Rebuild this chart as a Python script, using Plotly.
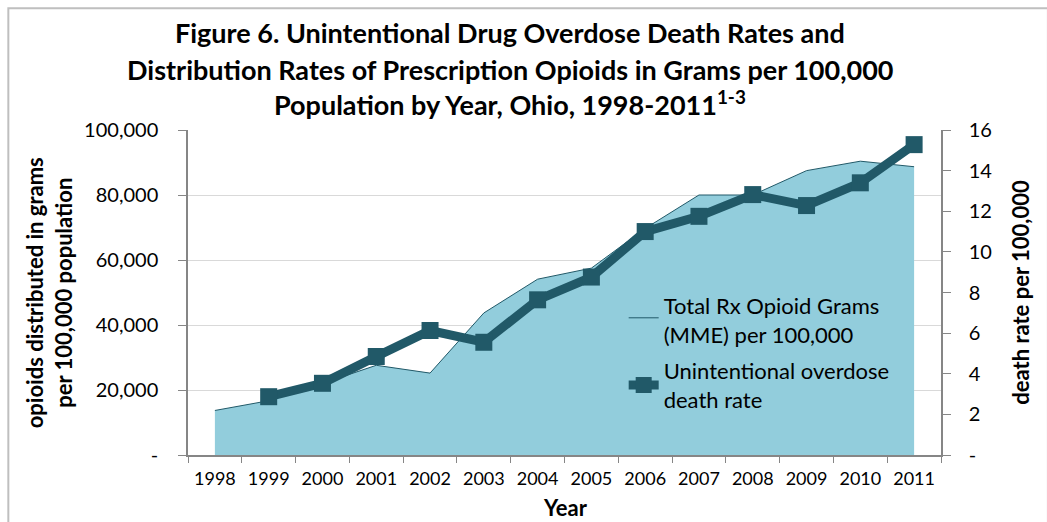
import plotly.graph_objects as go

# Ohio, 1998-2011
years = [str(y) for y in range(1998, 2012)]
opioid_grams = [13700, 16700, 22000, 27600, 25200, 43700, 54100,
                57500, 69700, 80000, 80000, 87500, 90400, 88700]
death_rate = [None, 2.87, 3.53, 4.85, 6.13, 5.55, 7.64,
              8.76, 11.0, 11.75, 12.82, 12.28, 13.40, 15.28]

left_ticks = [0, 20000, 40000, 60000, 80000, 100000]
left_ticktext = ["-", "20,000", "40,000", "60,000", "80,000", "100,000"]
right_ticks = [0, 2, 4, 6, 8, 10, 12, 14, 16]
right_ticktext = ["-", "2", "4", "6", "8", "10", "12", "14", "16"]

FONT = "Lato"
AREA_FILL = "#92CDDC"
DARK = "#215968"
AXIS_GRAY = "#868686"

fig = go.Figure()

fig.add_trace(go.Scatter(
    x=years, y=opioid_grams, yaxis="y",
    mode="lines", fill="tozeroy",
    fillcolor=AREA_FILL,
    line=dict(color=DARK, width=1),
    name="Total Rx Opioid Grams<br>(MME) per 100,000",
    legendgroup="grams",
))

fig.add_trace(go.Scatter(
    x=years, y=death_rate, yaxis="y2",
    mode="lines+markers",
    line=dict(color=DARK, width=9),
    marker=dict(symbol="square", size=17, color=DARK),
    name="Unintentional overdose<br>death rate",
    legendgroup="deaths",
))

fig.update_layout(
    width=1047, height=522,
    margin=dict(l=188, r=106, t=130, b=67),
    paper_bgcolor="white", plot_bgcolor="white",
    font=dict(family=FONT, color="black"),
    showlegend=True,
    legend=dict(
        x=0.5786, y=0.524, xanchor="left", yanchor="top",
        bgcolor="rgba(0,0,0,0)",
        font=dict(family=FONT, size=22, color="black"),
        tracegroupgap=5,
    ),
    xaxis=dict(
        type="category", range=[-0.5, 13.5],
        tickson="boundaries", ticks="outside", ticklen=6,
        tickcolor=AXIS_GRAY, showline=True, linecolor=AXIS_GRAY, linewidth=1.5,
        showgrid=False, tickfont=dict(family=FONT, size=18),
        ticklabelstandoff=7,
    ),
    yaxis=dict(
        range=[0, 100000], tickvals=left_ticks, ticktext=left_ticktext,
        ticks="outside", ticklen=8, tickcolor=AXIS_GRAY,
        showline=True, linecolor=AXIS_GRAY, linewidth=1.5,
        showgrid=True, gridcolor="#D9D9D9", gridwidth=1.2,
        zeroline=False, tickfont=dict(family=FONT, size=20),
        ticklabelstandoff=16,
    ),
    yaxis2=dict(
        range=[0, 16], tickvals=right_ticks, ticktext=right_ticktext,
        overlaying="y", side="right",
        ticks="outside", ticklen=8, tickcolor=AXIS_GRAY,
        showline=True, linecolor=AXIS_GRAY, linewidth=1.5,
        showgrid=False, zeroline=False, tickfont=dict(family=FONT, size=20),
        ticklabelstandoff=14,
    ),
)

title_lines = [
    "Figure 6. Unintentional Drug Overdose Death Rates and",
    "Distribution Rates of Prescription Opioids in Grams per 100,000",
    "Population by Year, Ohio, 1998-2011<sup>1-3</sup>",
]
title_y = [1.3005, 1.1864, 1.0817]
for text, ty in zip(title_lines, title_y):
    fig.add_annotation(
        text=f"<b>{text}</b>", x=0.428, y=ty, xref="paper", yref="paper",
        xanchor="center", yanchor="middle", showarrow=False,
        font=dict(family=FONT, size=27, color="black"),
    )

# axis titles
fig.add_annotation(
    text="<b>opioids distributed in grams<br>per 100,000 population</b>",
    x=-0.1849, y=0.50, xref="paper", yref="paper", textangle=-90,
    xanchor="center", yanchor="middle", showarrow=False,
    font=dict(family=FONT, size=22, color="black"),
)
fig.add_annotation(
    text="<b>death rate per 100,000</b>",
    x=1.1053, y=0.50, xref="paper", yref="paper", textangle=-90,
    xanchor="center", yanchor="middle", showarrow=False,
    font=dict(family=FONT, size=22, color="black"),
)
fig.add_annotation(
    text="<b>Year</b>", x=0.501, y=-0.163, xref="paper", yref="paper",
    xanchor="center", yanchor="middle", showarrow=False,
    font=dict(family=FONT, size=22, color="black"),
)

# chart frame
fig.add_shape(
    type="rect", xref="paper", yref="paper",
    x0=-0.2386, x1=1.142, y0=-0.35, y1=1.3744,
    line=dict(color="#BFBFBF", width=2), fillcolor="rgba(0,0,0,0)",
    layer="below",
)

fig.write_html("out.html")
